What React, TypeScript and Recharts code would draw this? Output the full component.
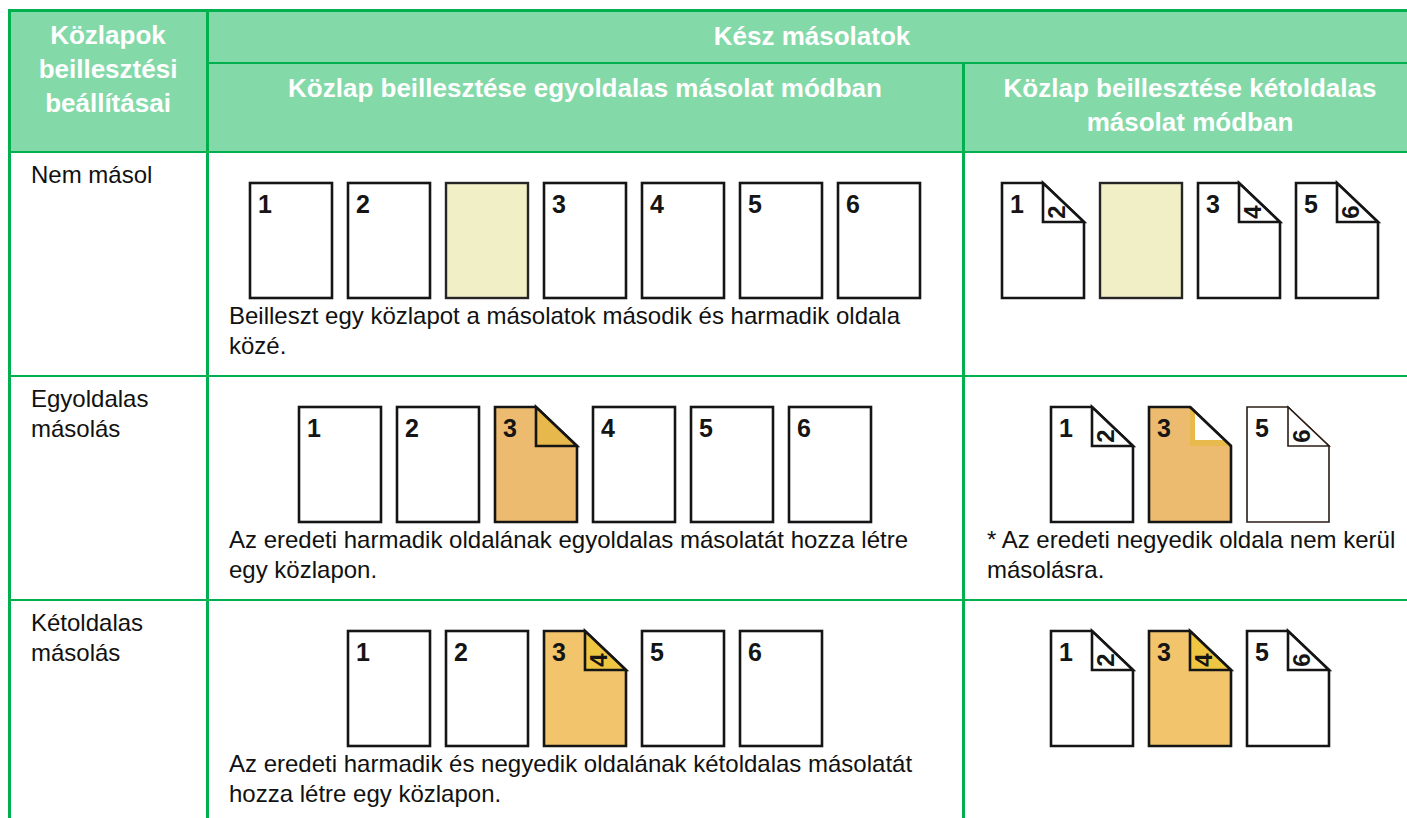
import React from "react";
import { BarChart, Bar, XAxis, YAxis } from "recharts";

// table text
const headerSettings = ["Közlapok", "beillesztési", "beállításai"];
const headerResult = "Kész másolatok";
const headerSimplex = ["Közlap beillesztése egyoldalas másolat módban"];
const headerDuplex = ["Közlap beillesztése kétoldalas", "másolat módban"];

const settingLabels = [["Nem másol"], ["Egyoldalas", "másolás"], ["Kétoldalas", "másolás"]];
const simplexNotes = [
  ["Beilleszt egy közlapot a másolatok második és harmadik oldala", "közé."],
  ["Az eredeti harmadik oldalának egyoldalas másolatát hozza létre", "egy közlapon."],
  ["Az eredeti harmadik és negyedik oldalának kétoldalas másolatát", "hozza létre egy közlapon."],
];
const duplexNotes = [[], ["* Az eredeti negyedik oldala nem kerül", "másolásra."], []];

// page strips, one per cell
type Page = { front?: string; back?: string; kind: string };

const noCopySimplex: Page[] = [
  { front: "1", kind: "plain" },
  { front: "2", kind: "plain" },
  { kind: "blank" },
  { front: "3", kind: "plain" },
  { front: "4", kind: "plain" },
  { front: "5", kind: "plain" },
  { front: "6", kind: "plain" },
];
const noCopyDuplex: Page[] = [
  { front: "1", back: "2", kind: "plain" },
  { kind: "blank" },
  { front: "3", back: "4", kind: "plain" },
  { front: "5", back: "6", kind: "plain" },
];
const simplexCopySimplex: Page[] = [
  { front: "1", kind: "plain" },
  { front: "2", kind: "plain" },
  { front: "3", kind: "tabSimplex" },
  { front: "4", kind: "plain" },
  { front: "5", kind: "plain" },
  { front: "6", kind: "plain" },
];
const simplexCopyDuplex: Page[] = [
  { front: "1", back: "2", kind: "plain" },
  { front: "3", kind: "tabSkipped" },
  { front: "5", back: "6", kind: "faint" },
];
const duplexCopySimplex: Page[] = [
  { front: "1", kind: "plain" },
  { front: "2", kind: "plain" },
  { front: "3", back: "4", kind: "tabDuplex" },
  { front: "5", kind: "plain" },
  { front: "6", kind: "plain" },
];
const duplexCopyDuplex: Page[] = [
  { front: "1", back: "2", kind: "plain" },
  { front: "3", back: "4", kind: "tabDuplex" },
  { front: "5", back: "6", kind: "plain" },
];

const simplexStrips = [noCopySimplex, simplexCopySimplex, duplexCopySimplex];
const duplexStrips = [noCopyDuplex, simplexCopyDuplex, duplexCopyDuplex];

// layout
const FONT = '"Liberation Sans", Arial, Helvetica, sans-serif';
const GRID = "#00b04f";
const HEADER_FILL = "#83d9a8";
const SEP1 = 207;
const SEP2 = 963;
const ROW_TOPS = [152, 376, 600];
const SIMPLEX_CENTER = 585;
const DUPLEX_CENTER = 1190;
const PAGE_STEP = 98;
const PAGE_W = 82;
const PAGE_H = 115;
const PAD = 3;

const PAGE_STYLES: Record<string, any> = {
  plain: { fill: "#ffffff", fold: "#ffffff", stroke: "#151515", sw: 2.6 },
  blank: { fill: "#f1efc5", stroke: "#252525", sw: 2.4 },
  tabSimplex: { fill: "#ecbb6f", fold: "#e7b84c", stroke: "#151515", sw: 2.6 },
  tabSkipped: { fill: "#ecbb6f", fold: "#e8b94b", inner: "#ffffff", stroke: "#151515", sw: 2.6 },
  tabDuplex: { fill: "#f2c46b", fold: "#efc641", stroke: "#151515", sw: 2.6 },
  faint: { fill: "#ffffff", fold: "#ffffff", stroke: "#2b1d14", sw: 1.6 },
};

function PageShape(props: any) {
  const { x, y, width: w, height: h } = props;
  if (x == null || y == null) return null;
  const page: Page = props.payload ?? props;
  const st = PAGE_STYLES[page.kind];
  const hasFold = page.back != null || page.kind === "tabSimplex" || page.kind === "tabSkipped";
  const fw = w * 0.5;
  const fh = 39;
  const front = page.front ? (
    <text x={x + 8} y={y + 30} fontFamily={FONT} fontWeight="bold" fontSize={25} fill="#151515">
      {page.front}
    </text>
  ) : null;
  if (!hasFold) {
    return (
      <g>
        <rect x={x} y={y} width={w} height={h} fill={st.fill} stroke={st.stroke} strokeWidth={st.sw} />
        {front}
      </g>
    );
  }
  const outline = `M${x},${y} H${x + fw} L${x + w},${y + fh} V${y + h} H${x} Z`;
  const fold = `M${x + fw},${y} V${y + fh} H${x + w} Z`;
  const cx = x + w * 0.67;
  const cy = y + 29;
  return (
    <g>
      <path d={outline} fill={st.fill} stroke={st.stroke} strokeWidth={st.sw} strokeLinejoin="miter" />
      {st.inner ? (
        <g>
          <path d={fold} fill={st.fold} />
          <path
            d={`M${x + fw + 5},${y + 5.5} V${y + fh - 6} H${x + fw + 35.5} Z`}
            fill={st.inner}
          />
          <path d={`M${x + fw},${y} L${x + w},${y + fh}`} stroke={st.stroke} strokeWidth={st.sw} />
        </g>
      ) : (
        <path d={fold} fill={st.fold} stroke={st.stroke} strokeWidth={st.sw} strokeLinejoin="miter" />
      )}
      {front}
      {page.back ? (
        <text
          transform={`translate(${cx + 8.5},${cy}) rotate(-90)`}
          textAnchor="middle"
          fontFamily={FONT}
          fontWeight="bold"
          fontSize={24}
          fill="#151515"
        >
          {page.back}
        </text>
      ) : null}
    </g>
  );
}

function PageStrip({ pages, center, top }: { pages: Page[]; center: number; top: number }) {
  const width = pages.length * PAGE_STEP;
  const data = pages.map((p, i) => ({ ...p, slot: `p${i}`, v: 1 }));
  return (
    <div style={{ position: "absolute", left: center - width / 2, top: top - PAD }}>
      <BarChart
        width={width}
        height={PAGE_H + PAD * 2}
        data={data}
        margin={{ top: PAD, right: 0, bottom: PAD, left: 0 }}
        barCategoryGap={0}
      >
        <XAxis dataKey="slot" type="category" hide />
        <YAxis type="number" domain={[0, 1]} hide width={0} />
        <Bar dataKey="v" barSize={PAGE_W} shape={PageShape} isAnimationActive={false} />
      </BarChart>
    </div>
  );
}

function Label({
  x,
  y,
  size,
  bold,
  color,
  center,
  children,
}: {
  x: number;
  y: number;
  size: number;
  bold?: boolean;
  color?: string;
  center?: boolean;
  children: React.ReactNode;
}) {
  return (
    <div
      style={{
        position: "absolute",
        left: x,
        top: y - 0.8465 * size,
        fontFamily: FONT,
        fontSize: size,
        lineHeight: `${size}px`,
        fontWeight: bold ? "bold" : "normal",
        color: color ?? "#111111",
        whiteSpace: "nowrap",
        transform: center ? "translateX(-50%)" : undefined,
      }}
    >
      {children}
    </div>
  );
}

function Line({ x, y, w, h }: { x: number; y: number; w: number; h: number }) {
  return <div style={{ position: "absolute", left: x, top: y, width: w, height: h, background: GRID }} />;
}

export default function App() {
  return (
    <div
      style={{
        position: "fixed",
        left: 0,
        top: 0,
        width: 1407,
        height: 818,
        overflow: "hidden",
        background: "#ffffff",
      }}
    >
      {/* header band */}
      <div style={{ position: "absolute", left: 9, top: 11, width: 1400, height: 141, background: HEADER_FILL }} />

      {/* grid */}
      <Line x={8} y={9} w={1400} h={3} />
      <Line x={8} y={9} w={2.5} h={809} />
      <Line x={SEP1 - 1} y={9} w={2.5} h={809} />
      <Line x={SEP2 - 1} y={62} w={2.5} h={756} />
      <Line x={SEP1} y={62} w={1200} h={2} />
      <Line x={8} y={151} w={1400} h={2} />
      <Line x={8} y={375} w={1400} h={2} />
      <Line x={8} y={599} w={1400} h={2} />

      {/* header text */}
      {headerSettings.map((t, i) => (
        <Label key={t} x={108} y={44 + i * 34} size={26} bold color="#ffffff" center>
          {t}
        </Label>
      ))}
      <Label x={812} y={45} size={26} bold color="#ffffff" center>
        {headerResult}
      </Label>
      {headerSimplex.map((t, i) => (
        <Label key={t} x={SIMPLEX_CENTER} y={97 + i * 34} size={26} bold color="#ffffff" center>
          {t}
        </Label>
      ))}
      {headerDuplex.map((t, i) => (
        <Label key={t} x={DUPLEX_CENTER} y={97 + i * 34} size={26} bold color="#ffffff" center>
          {t}
        </Label>
      ))}

      {/* body rows */}
      {ROW_TOPS.map((top, r) => (
        <React.Fragment key={r}>
          {settingLabels[r].map((t, i) => (
            <Label key={`s${i}`} x={31} y={top + 31 + i * 30} size={24}>
              {t}
            </Label>
          ))}
          <PageStrip pages={simplexStrips[r]} center={SIMPLEX_CENTER} top={top + 31} />
          <PageStrip pages={duplexStrips[r]} center={DUPLEX_CENTER} top={top + 31} />
          {simplexNotes[r].map((t, i) => (
            <Label key={`n${i}`} x={229} y={top + 172 + i * 30} size={24}>
              {t}
            </Label>
          ))}
          {duplexNotes[r].map((t, i) => (
            <Label key={`d${i}`} x={987} y={top + 172 + i * 30} size={24}>
              {t}
            </Label>
          ))}
        </React.Fragment>
      ))}
    </div>
  );
}
